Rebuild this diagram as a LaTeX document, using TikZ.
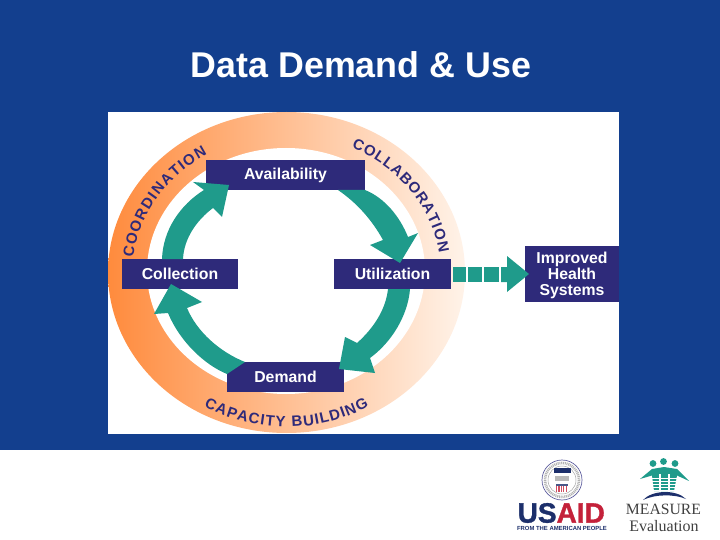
\documentclass[tikz,border=0pt]{standalone}
\usepackage{fontspec}
\setmainfont{Liberation Sans}
\newfontfamily\serifl{Liberation Serif}
\newfontfamily\heavy[BoldFeatures={FakeBold=1.2}]{Liberation Sans}
\usetikzlibrary{decorations.text}
\definecolor{slideblue}{HTML}{133F8E}
\definecolor{boxnavy}{HTML}{2E2A7A}
\definecolor{teal1}{HTML}{1F9B8B}
\definecolor{ringL}{HTML}{FF8B3D}
\definecolor{ringR}{HTML}{FFF3E9}
\definecolor{usnavy}{HTML}{1C2F6B}
\definecolor{usred}{HTML}{C4213A}
\tikzset{
 labelbox/.style={fill=boxnavy,text=white,font=\bfseries\fontsize{15.8}{16}\selectfont,align=center,inner sep=0pt},
 flow/.style={fill=teal1,draw=none},
 ringtext/.style={decoration={text along path,text align={fit to path},text color=boxnavy,
   text={|\bfseries\fontsize{15}{16}\selectfont|#1}},decorate},
}
\begin{document}
\begin{tikzpicture}[x=1pt,y=-1pt]
\useasboundingbox (0,0) rectangle (720,540);
\fill[white] (0,0) rectangle (720,540);
\fill[slideblue] (0,0) rectangle (720,450);
\fill[white] (108,112) rectangle (619,434);
\node[text=white,font=\bfseries\fontsize{35.8}{36}\selectfont,inner sep=0pt] (title) at (361,65) {Data Demand \& Use};
% ring
\shade[left color=ringL,right color=ringR] (286.5,272.5) ellipse [x radius=178.5,y radius=160.5];
\fill[white] (286,271) ellipse [x radius=139,y radius=123];
% ring text
\path[ringtext={COORDINATION}] plot[domain=186:239,samples=50] ({286.5+154*cos(\x)},{272+137*sin(\x)});
\path[ringtext={COLLABORATION}] plot[domain=295:352,samples=50] ({286.5+154*cos(\x)},{272+137*sin(\x)});
\path[ringtext={CAPACITY BUILDING}] plot[domain=120:60,samples=50] ({286.5+165*cos(\x)},{272+155*sin(\x)});
% boxes
\node[labelbox,minimum width=159pt,minimum height=30pt] (avail) at (285.5,175) {Availability};
\node[labelbox,minimum width=116pt,minimum height=30pt] (coll) at (180,274) {Collection};
\node[labelbox,minimum width=117pt,minimum height=30pt] (util) at (392.5,274) {Utilization};
\node[labelbox,minimum width=117pt,minimum height=30pt] (dem) at (285.5,377) {Demand};
\node[labelbox,minimum width=94pt,minimum height=56pt,text depth=0pt] (impr) at (572,274) {Improved\\Health\\Systems};
% cycle arrows
\fill[flow] (365,190) .. controls (385,198) and (400,217) .. (408,237) -- (418,233) -- (400,263) -- (370,245) -- (383,240) .. controls (372,220) and (357,203) .. (338,190) -- cycle;
\fill[flow] (410,289) .. controls (408,315) and (392,342) .. (370,358) -- (375,373) -- (339,369) -- (345,337) -- (357,343) .. controls (375,327) and (386,308) .. (388,289) -- cycle;
\fill[flow] (227,374) .. controls (205,365) and (180,342) .. (168,313) -- (154,314) -- (171,284) -- (202,302) -- (187,308) .. controls (197,332) and (220,352) .. (245,362) -- cycle;
\fill[flow] (162,259) .. controls (163,230) and (180,205) .. (204,190) -- (193,182) -- (229,185) -- (222,217) -- (213,208) .. controls (197,220) and (184,238) .. (183,259) -- cycle;
% output arrow
\fill[flow] (453,267) rectangle (466,282);
\fill[flow] (468,267) rectangle (482,282);
\fill[flow] (484,267) rectangle (499,282);
\fill[flow] (501,267) -- (507,267) -- (507,256) -- (529,274) -- (507,292) -- (507,282) -- (501,282) -- cycle;
% USAID seal
\draw[gray!75!blue,line width=.7pt] (562,480) circle (20);
\draw[gray!60,line width=2.6pt,dash pattern=on 1pt off .8pt] (562,480) circle (17);
\draw[gray!70,line width=.5pt] (562,480) circle (14);
\fill[usnavy] (553.5,468) rectangle (570.5,472.5);
\fill[gray!55] (555,476) rectangle (569,481);
\fill[usnavy!80] (556,484) rectangle (568,486);
\foreach \xx in {556,558.4,560.8,563.2,565.6}{\fill[usred!80] (\xx,486) rectangle (\xx+1.2,491.5);}
% USAID text
\node[inner sep=0pt,anchor=west,font=\heavy\bfseries\fontsize{28}{30}\selectfont] (usaid) at (517.5,513) {\textcolor{usnavy}{US}\textcolor{usred}{AID}};
\node[inner sep=0pt,text=usnavy,font=\bfseries\fontsize{5.9}{6}\selectfont] (people) at (562,528.5) {FROM THE AMERICAN PEOPLE};
% MEASURE logo
\fill[teal1] (653,463.5) circle (3.4) (663.5,461.5) circle (3.4) (675,463.5) circle (3.4);
\fill[teal1] (640,479) -- (652,469) -- (664,467) -- (677,469) -- (689,481) -- (677,475.5) -- (674,491) -- (654,491) -- (652,475.5) -- cycle;
\foreach \yy in {478,481,484,487,490}{\draw[white,line width=.9pt] (650,\yy) -- (680,\yy);}
\draw[white,line width=1.1pt] (660,474) -- (660,492);
\draw[white,line width=1.1pt] (669,474) -- (669,492);
\fill[usnavy] (643,500) .. controls (652,490) and (676,489) .. (686,499) .. controls (675,494) and (655,494) .. (643,500) -- cycle;
\node[inner sep=0pt,text=black!75,font=\serifl\fontsize{15.7}{18}\selectfont] (measure) at (663.5,509) {MEASURE};
\node[inner sep=0pt,text=black!75,font=\serifl\fontsize{16}{18}\selectfont] (eval) at (664,526) {Evaluation};
\end{tikzpicture}
\end{document}
